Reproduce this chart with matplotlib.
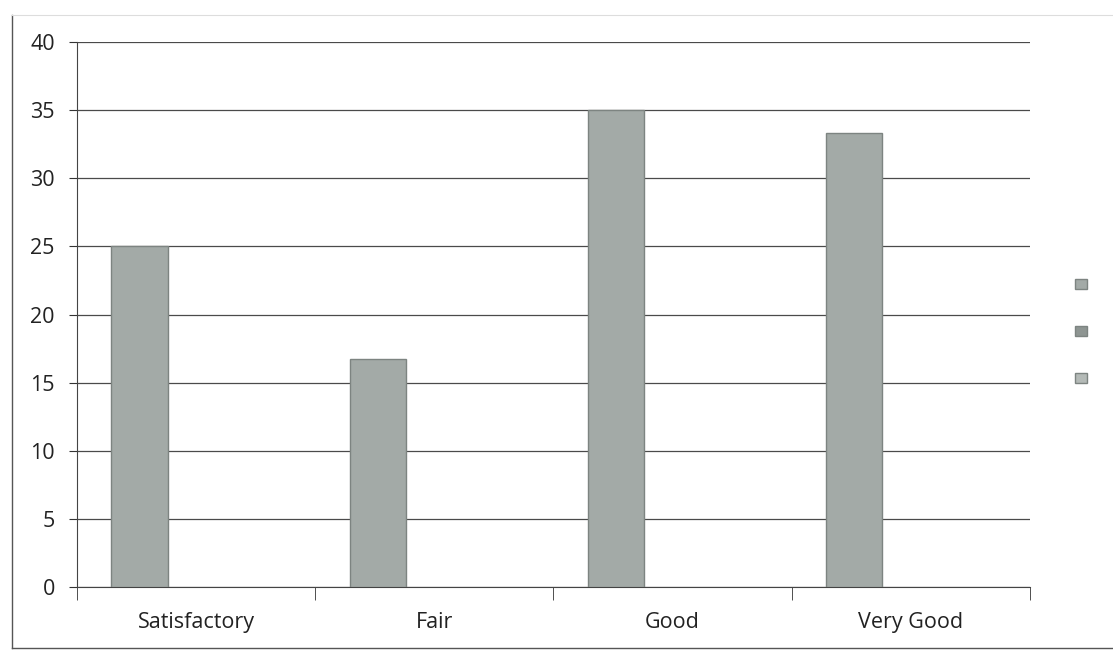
import numpy as np
import matplotlib.pyplot as plt
from matplotlib.lines import Line2D
from matplotlib.patches import Patch

# data
categories = ['Satisfactory', 'Fair', 'Good', 'Very Good']
series_1 = [25, 16.7, 35, 33.3]
series_2 = [0, 0, 0, 0]
series_3 = [0, 0, 0, 0]
y_ticks = [0, 5, 10, 15, 20, 25, 30, 35, 40]

plt.rcParams['font.family'] = ['Open Sans', 'DejaVu Sans']

fig = plt.figure(figsize=(11.13, 6.58), dpi=100)
ax = fig.add_axes([0.0692, 0.108, 0.856, 0.828])

x = np.arange(len(categories))
w = 0.237
colors = ['#a3aaa7', '#8e9592', '#b4bab7']
for i, vals in enumerate([series_1, series_2, series_3]):
    ax.bar(x + (i - 1) * w, vals, w, color=colors[i],
           edgecolor='#7d8481' if i == 0 else 'none', linewidth=1.0, zorder=3)

ax.set_xlim(-0.5, 3.5)
ax.set_ylim(0, 40)
ax.set_yticks(y_ticks)
ax.tick_params(axis='y', labelsize=15.5, length=6, color='#333', pad=10,
               labelcolor='#222')
ax.yaxis.grid(True, color='#4a4a4a', linewidth=0.9, zorder=0)

# category labels at centres, tick marks at boundaries
ax.set_xticks(x)
ax.set_xticklabels(categories, fontsize=15.5, color='#222')
ax.tick_params(axis='x', length=0, pad=18)
ax.set_xticks(np.arange(-0.5, 4.0, 1.0), minor=True)
ax.tick_params(axis='x', which='minor', length=9, color='#333')

for s in ['top', 'right']:
    ax.spines[s].set_visible(False)
ax.spines['left'].set_color('#444')
ax.spines['bottom'].set_color('#444')

# legend with empty labels
handles = [Patch(facecolor=c, edgecolor='#7d8481') for c in colors]
fig.legend(handles, ['', '', ''], loc='center left',
           bbox_to_anchor=(0.955, 0.495), frameon=False,
           handlelength=0.8, handleheight=0.8, labelspacing=2.3)

# chart area border
fig.add_artist(Line2D([0.011, 0.011], [0.015, 0.977], color='#555', lw=1.0,
                      transform=fig.transFigure))
fig.add_artist(Line2D([0.011, 1.0], [0.015, 0.015], color='#555', lw=1.0,
                      transform=fig.transFigure))
fig.add_artist(Line2D([0.011, 1.0], [0.977, 0.977], color='#dddddd', lw=0.8,
                      transform=fig.transFigure))

fig.savefig('out.png', dpi=100)
